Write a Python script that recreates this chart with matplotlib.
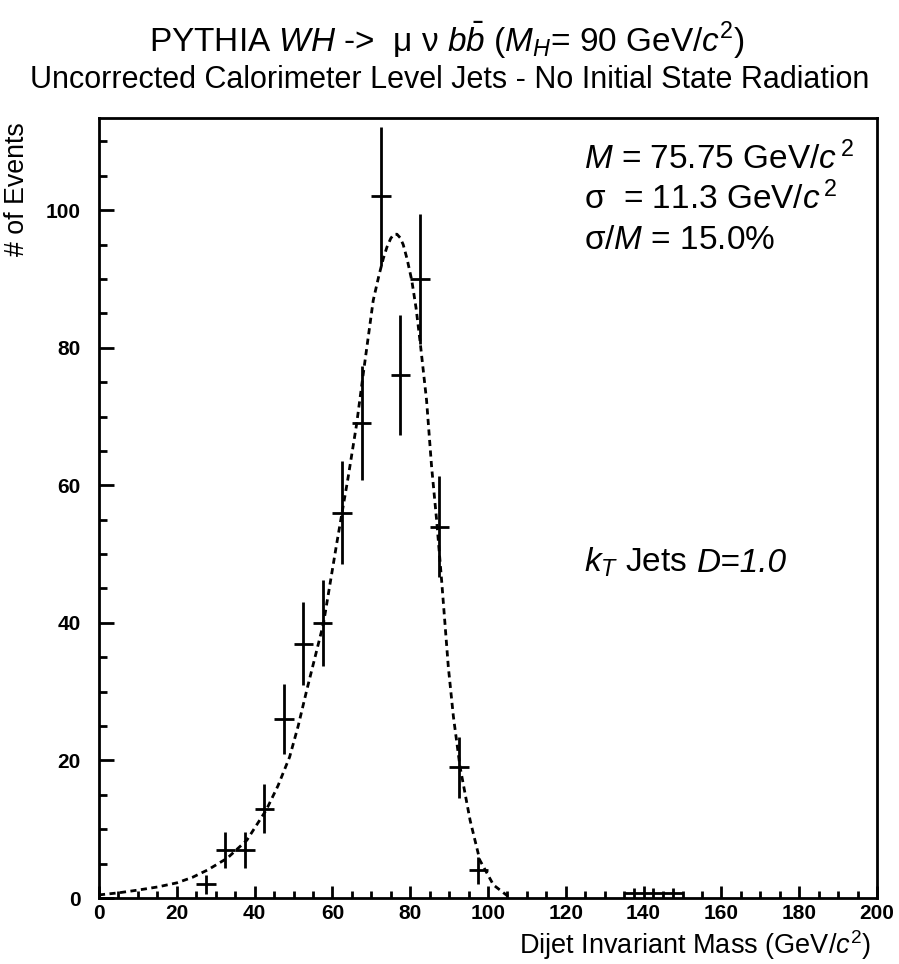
import matplotlib
matplotlib.use("Agg")
import matplotlib.pyplot as plt
from matplotlib.ticker import MultipleLocator

plt.rcParams['font.family'] = ['Liberation Sans', 'DejaVu Sans']
plt.rcParams['mathtext.fontset'] = 'custom'
plt.rcParams['mathtext.rm'] = 'Liberation Sans'
plt.rcParams['mathtext.it'] = 'Liberation Sans:italic'
plt.rcParams['mathtext.bf'] = 'Liberation Sans:bold'

# ---- data ----
bin_centers = [27.5, 32.5, 37.5, 42.5, 47.5, 52.5, 57.5, 62.5, 67.5, 72.5,
               77.5, 82.5, 87.5, 92.5, 97.5, 137.5, 142.5, 147.5]
counts = [2, 7, 7, 13, 26, 37, 40, 56, 69, 102, 76, 90, 54, 19, 4, 0.7, 0.7, 0.7]
count_errors = [1.4, 2.6, 2.6, 3.6, 5.1, 6.1, 6.3, 7.5, 8.3, 10.1, 8.7, 9.5,
                7.3, 4.4, 2.0, 0.7, 0.7, 0.7]
bin_half_width = 2.5

fit_x = [0, 5, 10, 15, 20, 24, 28, 33, 38, 43, 46, 49, 51.2, 53.4, 57.7, 61.1,
         64, 66.2, 68, 70.5, 72, 73.1, 74, 75, 75.8, 76.6, 77.4, 78.2, 79.2,
         80.4, 81.5, 82.5, 84.2, 85.5, 86.8, 88.1, 89.8, 91.1, 92.8, 95.4, 97.9,
         101.4, 104.8, 106]
fit_y = [0.45, 0.75, 1.15, 1.6, 2.2, 3.0, 4.1, 5.8, 8.4, 12.8, 16.3, 20.5, 25.0,
         30.2, 39.9, 51.5, 61, 68.8, 76.5, 86.9, 90.6, 93.0, 94.6, 95.9, 96.5,
         96.5, 96.0, 95.0, 92.9, 89.8, 85.8, 81.1, 72.4, 62.7, 54.9, 46, 33.6,
         26.4, 19.1, 11.3, 5.5, 1.9, 0.4, 0]

# ---- figure ----
W, H = 899, 964
fig = plt.figure(figsize=(W / 100, H / 100), dpi=100)
L, R, T, B = 99, 877, 118, 898
ax = fig.add_axes([L / W, (H - B) / H, (R - L) / W, (B - T) / H])

ax.plot(fit_x, fit_y, linestyle=(0, (2.2, 1.6)), color='black', linewidth=2.0)
ax.errorbar(bin_centers, counts, yerr=count_errors, xerr=bin_half_width,
            fmt='none', ecolor='black', elinewidth=2.0, capsize=0)

ax.set_xlim(0, 200)
ax.set_ylim(0, 113.4)
ax.xaxis.set_major_locator(MultipleLocator(20))
ax.xaxis.set_minor_locator(MultipleLocator(5))
ax.yaxis.set_major_locator(MultipleLocator(20))
ax.yaxis.set_minor_locator(MultipleLocator(5))
ax.tick_params(axis='both', which='both', direction='in', top=False, right=False,
               width=2, labelsize=15)
ax.tick_params(axis='y', which='major', length=11, pad=13)
ax.tick_params(axis='y', which='minor', length=6)
ax.tick_params(axis='x', which='major', length=9, pad=4)
ax.tick_params(axis='x', which='minor', length=5)
for lab in ax.get_xticklabels() + ax.get_yticklabels():
    lab.set_fontweight('bold')
for sp in ax.spines.values():
    sp.set_linewidth(2)

# titles
fig.text(0.497, 1 - 40 / H, r"PYTHIA $WH$ ->  μ ν $b\bar{b}$ ($M_{H}$= 90 GeV/$c^{2}$)",
         ha='center', va='center', fontsize=24)
fig.text(0.5, 1 - 80 / H, "Uncorrected Calorimeter Level Jets - No Initial State Radiation",
         ha='center', va='center', fontsize=22)

# annotations
fs_ann = 24
ax.text(0.624, 0.948, r"$M$ = 75.75 GeV/$c^{\,2}$", transform=ax.transAxes,
        ha='left', va='center', fontsize=fs_ann)
ax.text(0.624, 0.896, r"σ  = 11.3 GeV/$c^{\,2}$", transform=ax.transAxes,
        ha='left', va='center', fontsize=fs_ann)
ax.text(0.624, 0.843, r"σ/$M$ = 15.0%", transform=ax.transAxes,
        ha='left', va='center', fontsize=fs_ann)
t1 = ax.text(0.624, 0.418, r"$k_{T}$ Jets", transform=ax.transAxes,
             ha='left', va='baseline', fontsize=fs_ann)
ax.annotate("D=1.0", xy=(1, 0), xycoords=t1, xytext=(7, 0),
            textcoords='offset points', ha='left', va='bottom',
            fontsize=fs_ann, fontstyle='italic')

# axis labels
fig.text(871 / W, 1 - 945 / H, r"Dijet Invariant Mass (GeV/$c^{2}$)",
         ha='right', va='center', fontsize=19.5)
fig.text(17 / W, 1 - 122 / H, "# of Events", rotation=90,
         ha='center', va='top', fontsize=19.3)

fig.savefig("out.png", dpi=100)
